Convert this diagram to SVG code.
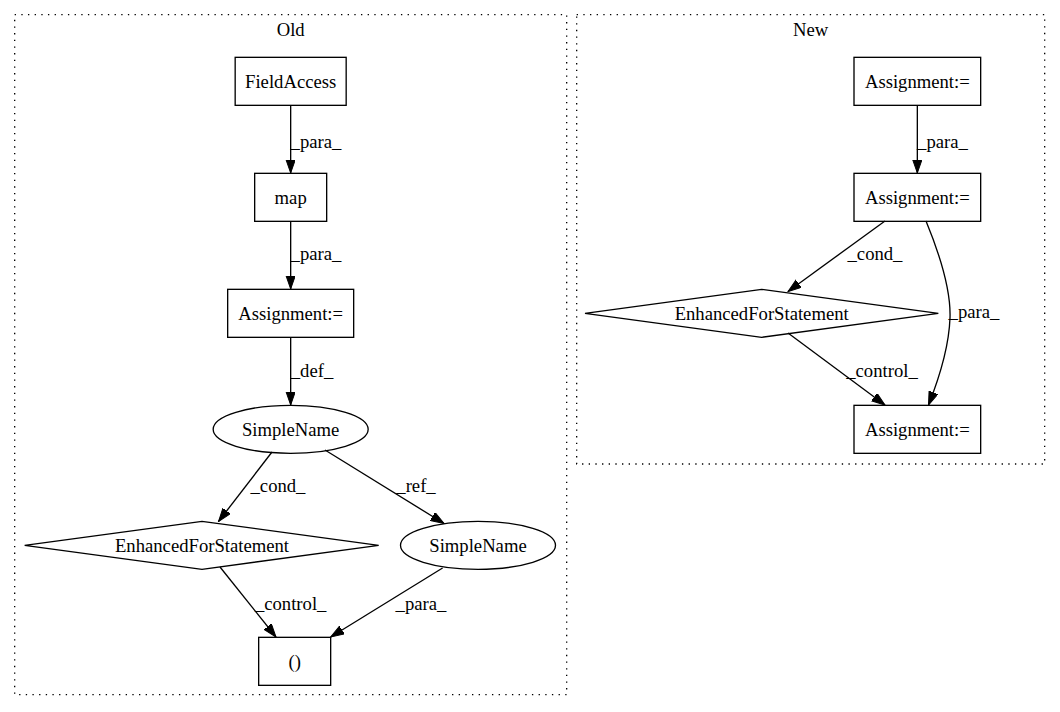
<svg xmlns="http://www.w3.org/2000/svg" width="1060" height="712" viewBox="0 0 1060 712">
<defs>
<style>
text{font-family:"Liberation Serif","Times New Roman",serif;font-size:18.67px;fill:#000;text-anchor:middle}
.cl{fill:none;stroke:#000;stroke-width:1.33;stroke-dasharray:1.33,5.33}
.n{fill:none;stroke:#000;stroke-width:1.33}
.e{fill:none;stroke:#000;stroke-width:1.33;marker-end:url(#ah)}
</style>
<marker id="ah" markerUnits="userSpaceOnUse" markerWidth="14" markerHeight="10" refX="13.33" refY="4.67" orient="auto" viewBox="0 0 14 10">
<path d="M0,0 L13.33,4.67 L0,9.33 z" fill="#000" stroke="#000" stroke-width="1"/>
</marker>
</defs>
<rect width="1060" height="712" fill="#fff"/>
<g id="cluster_old">
<rect class="cl" x="14.67" y="14.67" width="552" height="680"/>
<text x="290.67" y="36">Old</text>
</g>
<g id="cluster_new">
<rect class="cl" x="576.67" y="14.67" width="468" height="449.33"/>
<text x="810.67" y="36">New</text>
</g>
<g id="connectors">
<line class="e" x1="290.67" y1="105" x2="290.67" y2="173"/>
<text x="316" y="148">_para_</text>
<line class="e" x1="290.67" y1="221" x2="290.67" y2="289"/>
<text x="316" y="260">_para_</text>
<line class="e" x1="290.67" y1="337" x2="290.67" y2="405"/>
<text x="312" y="377">_def_</text>
<line class="e" x1="272" y1="452" x2="218.5" y2="521.5"/>
<text x="278" y="492">_cond_</text>
<line class="e" x1="325" y1="450" x2="444" y2="523.5"/>
<text x="416" y="492">_ref_</text>
<line class="e" x1="220" y1="567" x2="276" y2="637"/>
<text x="290.67" y="610">_control_</text>
<line class="e" x1="442.6" y1="568" x2="330.7" y2="637"/>
<text x="421" y="610">_para_</text>
<line class="e" x1="917.33" y1="105" x2="917.33" y2="173"/>
<text x="942.5" y="148">_para_</text>
<line class="e" x1="885" y1="221" x2="788" y2="291.5"/>
<text x="875" y="260">_cond_</text>
<path class="e" d="M926,221 C940,255 951,290 950,318 C949,346 940,376 928.5,405"/>
<text x="974" y="318">_para_</text>
<line class="e" x1="788" y1="333" x2="885" y2="405"/>
<text x="882" y="377">_control_</text>
</g>
<g id="n_fieldaccess">
<rect class="n" x="235.17" y="57.33" width="111" height="48"/>
<text x="290.67" y="87.5">FieldAccess</text>
</g>
<g id="n_map">
<rect class="n" x="254.67" y="173.33" width="72" height="48"/>
<text x="290.67" y="203.5">map</text>
</g>
<g id="n_assign_old">
<rect class="n" x="227.67" y="289.33" width="126" height="48"/>
<text x="290.67" y="319.5">Assignment:=</text>
</g>
<g id="n_simplename1">
<ellipse class="n" cx="290.67" cy="429.33" rx="77.5" ry="24"/>
<text x="290.67" y="435.5">SimpleName</text>
</g>
<g id="n_efs_old">
<polygon class="n" points="24.67,545.33 202,521.33 378.67,545.33 202,569.33"/>
<text x="202" y="551.5">EnhancedForStatement</text>
</g>
<g id="n_simplename2">
<ellipse class="n" cx="478" cy="545.33" rx="77.5" ry="24"/>
<text x="478" y="551.5">SimpleName</text>
</g>
<g id="n_paren">
<rect class="n" x="258.67" y="637.33" width="72" height="48"/>
<text x="294.67" y="667.5">()</text>
</g>
<g id="n_assign_new1">
<rect class="n" x="854" y="57.33" width="126.67" height="48"/>
<text x="917.33" y="87.5">Assignment:=</text>
</g>
<g id="n_assign_new2">
<rect class="n" x="854" y="173.33" width="126.67" height="48"/>
<text x="917.33" y="203.5">Assignment:=</text>
</g>
<g id="n_efs_new">
<polygon class="n" points="585,313.33 761.67,289.33 938.33,313.33 761.67,337.33"/>
<text x="761.67" y="319.5">EnhancedForStatement</text>
</g>
<g id="n_assign_new3">
<rect class="n" x="854" y="405.33" width="126.67" height="48"/>
<text x="917.33" y="435.5">Assignment:=</text>
</g>
</svg>
